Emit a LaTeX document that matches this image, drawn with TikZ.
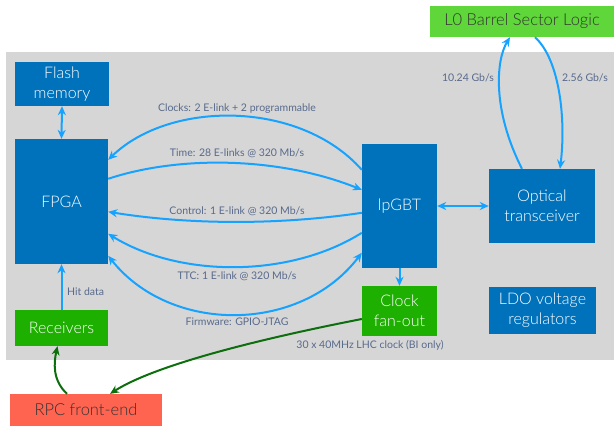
\documentclass[tikz,border=0pt]{standalone}
\usepackage{fontspec}
\setmainfont{Lato}
\newfontfamily\lightfont{Lato Light}
\usetikzlibrary{arrows.meta,calc}
\definecolor{boxblue}{RGB}{0,114,187}
\definecolor{arrblue}{RGB}{22,162,255}
\definecolor{bggray}{RGB}{214,214,214}
\definecolor{lblcol}{RGB}{88,106,140}
\definecolor{boxgreen}{RGB}{30,176,0}
\definecolor{lgreen}{RGB}{95,214,58}
\definecolor{rpcred}{RGB}{255,100,80}
\definecolor{dgreen}{RGB}{12,110,12}
\begin{document}
\begin{tikzpicture}[x=1pt,y=-1pt,
  box/.style={inner sep=0pt, align=center, font=\lightfont\fontsize{16}{20}\selectfont, text=white},
  bluebox/.style={box, fill=boxblue},
  greenbox/.style={box, fill=boxgreen},
  lbl/.style={font=\fontsize{10.5}{12}\selectfont, text=lblcol, inner sep=0pt},
  barr/.style={draw=arrblue, line width=2pt, -{Stealth[length=9pt,width=8pt]}},
  bdarr/.style={draw=arrblue, line width=2pt, {Stealth[length=9pt,width=8pt]}-{Stealth[length=9pt,width=8pt]}},
  garr/.style={draw=dgreen, line width=2pt, -{Stealth[length=9pt,width=8pt]}}]
\useasboundingbox (0,0) rectangle (614,426);
\fill[bggray] (6,52) rectangle (614,360);

\node[bluebox, minimum width=94pt, minimum height=44pt] (flash) at (62,84) {Flash\\memory};
\node[bluebox, minimum width=93pt, minimum height=125pt] (fpga) at (61.5,201.5) {FPGA};
\node[bluebox, minimum width=75pt, minimum height=124pt] (lpgbt) at (399.5,206) {lpGBT};
\node[bluebox, minimum width=106pt, minimum height=74pt] (optical) at (542,206) {Optical\\transceiver};
\node[greenbox, minimum width=75pt, minimum height=50pt] (clock) at (399.5,311) {Clock\\fan-out};
\node[bluebox, minimum width=107pt, minimum height=47pt] (ldo) at (542.5,310.5) {LDO voltage\\regulators};
\node[greenbox, minimum width=93pt, minimum height=36pt] (recv) at (61.5,328) {Receivers};
\node[box, fill=rpcred, text=black!80, font=\lightfont\fontsize{16.5}{20}\selectfont, minimum width=152pt, minimum height=32pt] (rpc) at (86,410) {RPC front-end};
\node[box, fill=lgreen, text=black!80, font=\lightfont\fontsize{16.5}{20}\selectfont, minimum width=184pt, minimum height=31pt] (l0) at (522,21.5) {L0 Barrel Sector Logic};

% FPGA <-> lpGBT links
\draw[barr] ([yshift=-26pt]lpgbt.north west) .. controls (300,100) and (170,100) .. ([yshift=-21pt]fpga.north east);
\draw[barr] ([yshift=-40pt]fpga.north east) .. controls (180,155) and (280,157) .. ([yshift=-46pt]lpgbt.north west);
\draw[barr] ([yshift=-69pt]lpgbt.north west) .. controls (280,225) and (190,225) .. ([yshift=-73pt]fpga.north east);
\draw[barr] ([yshift=-89pt]lpgbt.north west) .. controls (290,278) and (180,278) .. ([yshift=-95pt]fpga.north east);
\draw[bdarr] ([yshift=-117pt]fpga.north east) .. controls (170,334) and (300,334) .. ([yshift=-109pt]lpgbt.north west);

\node[lbl] (lclk) at (237,109) {Clocks: 2 E-link + 2 programmable};
\node[lbl] (ltime) at (237,153) {Time: 28 E-links @ 320 Mb/s};
\node[lbl] (lctrl) at (237,211) {Control: 1 E-link @ 320 Mb/s};
\node[lbl] (lttc) at (237,276) {TTC: 1 E-link @ 320 Mb/s};
\node[lbl] (lfw) at (237,322) {Firmware: GPIO-JTAG};

\draw[bdarr] (flash.south) -- (fpga.north);
\draw[barr] (recv.north) -- (fpga.south);
\node[lbl, anchor=west] (lhit) at (67,292) {Hit data};

\draw[bdarr] (lpgbt.east) -- (optical.west);
\draw[barr] (lpgbt.south) -- (clock.north);

% optical links
\draw[barr] ([xshift=-20pt]optical.north) .. controls (492,110) and (496,60) .. ([xshift=-12pt]l0.south);
\draw[barr] ([xshift=13pt]l0.south) .. controls (560,60) and (566,120) .. ([xshift=18pt]optical.north);
\node[lbl] (l1024) at (468,78) {10.24 Gb/s};
\node[lbl] (l256) at (585,78) {2.56 Gb/s};

% green links
\draw[garr] ([xshift=-19pt]rpc.north) .. controls (52,380) and (54,362) .. ([xshift=-4pt]recv.south);
\draw[garr] ([yshift=-8pt]clock.west) .. controls (280,335) and (160,362) .. ([xshift=24pt]rpc.north);
\node[lbl] (lclk2) at (370,345) {30 x 40MHz LHC clock (BI only)};
\end{tikzpicture}
\end{document}
